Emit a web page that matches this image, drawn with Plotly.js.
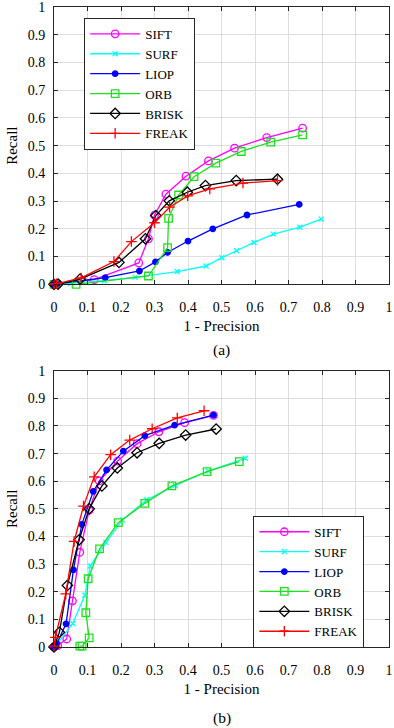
<!DOCTYPE html>
<html>
<head>
<meta charset="utf-8">
<script src="https://cdn.plot.ly/plotly-3.0.1.min.js"></script>
<style>
html,body{margin:0;padding:0;background:#fff;}
#chart{width:394px;height:728px;}
</style>
</head>
<body>
<div id="chart"></div>
<script>
// ---- Data: chart (a) ----
var names = ["SIFT", "SURF", "LIOP", "ORB", "BRISK", "FREAK"];
var tickVals = [0, 0.1, 0.2, 0.3, 0.4, 0.5, 0.6, 0.7, 0.8, 0.9, 1];
var tickText = ["0", "0.1", "0.2", "0.3", "0.4", "0.5", "0.6", "0.7", "0.8", "0.9", "1"];

var siftA_x = [0, 0.012, 0.12, 0.253, 0.282, 0.3, 0.334, 0.394, 0.461, 0.539, 0.635, 0.742];
var siftA_y = [0, 0.002, 0.017, 0.077, 0.164, 0.249, 0.325, 0.39, 0.445, 0.491, 0.529, 0.563];
var surfA_x = [0, 0.05, 0.15, 0.242, 0.368, 0.454, 0.501, 0.545, 0.597, 0.655, 0.734, 0.798];
var surfA_y = [0, 0.004, 0.013, 0.025, 0.046, 0.066, 0.096, 0.121, 0.151, 0.181, 0.206, 0.235];
var liopA_x = [0, 0.01, 0.153, 0.255, 0.303, 0.339, 0.4, 0.474, 0.576, 0.732];
var liopA_y = [0, 0.002, 0.024, 0.048, 0.081, 0.115, 0.156, 0.2, 0.25, 0.288];
var orbA_x = [0, 0.066, 0.282, 0.339, 0.342, 0.372, 0.418, 0.483, 0.559, 0.647, 0.742];
var orbA_y = [0, 0, 0.03, 0.132, 0.238, 0.322, 0.388, 0.437, 0.479, 0.513, 0.539];
var briskA_x = [0, 0.012, 0.078, 0.194, 0.273, 0.304, 0.344, 0.398, 0.452, 0.544, 0.667];
var briskA_y = [0, 0.001, 0.019, 0.079, 0.164, 0.248, 0.301, 0.332, 0.356, 0.374, 0.379];
var freakA_x = [0, 0.007, 0.081, 0.179, 0.231, 0.3, 0.345, 0.399, 0.465, 0.564, 0.667];
var freakA_y = [0, 0.002, 0.023, 0.082, 0.154, 0.222, 0.278, 0.319, 0.344, 0.365, 0.374];

// ---- Data: chart (b) ----
var siftB_x = [0, 0.011, 0.038, 0.055, 0.077, 0.105, 0.135, 0.19, 0.248, 0.313, 0.39, 0.476];
var siftB_y = [0, 0.005, 0.029, 0.167, 0.343, 0.495, 0.601, 0.673, 0.736, 0.779, 0.812, 0.838];
var surfB_x = [0, 0.006, 0.056, 0.092, 0.108, 0.155, 0.204, 0.277, 0.362, 0.46, 0.571];
var surfB_y = [0, 0.005, 0.085, 0.187, 0.293, 0.378, 0.46, 0.533, 0.585, 0.637, 0.683];
var liopB_x = [0, 0.008, 0.036, 0.058, 0.083, 0.117, 0.157, 0.207, 0.271, 0.36, 0.476];
var liopB_y = [0, 0.012, 0.084, 0.279, 0.444, 0.563, 0.641, 0.709, 0.765, 0.803, 0.839];
var orbB_x = [0.077, 0.084, 0.105, 0.095, 0.102, 0.136, 0.192, 0.271, 0.352, 0.457, 0.553];
var orbB_y = [0.003, 0.003, 0.033, 0.124, 0.247, 0.355, 0.45, 0.52, 0.583, 0.635, 0.671];
var briskB_x = [0, 0.016, 0.04, 0.075, 0.105, 0.143, 0.189, 0.248, 0.314, 0.393, 0.484];
var briskB_y = [0, 0.053, 0.223, 0.388, 0.5, 0.583, 0.648, 0.703, 0.737, 0.767, 0.789];
var freakB_x = [0, 0.004, 0.035, 0.06, 0.088, 0.12, 0.169, 0.226, 0.293, 0.368, 0.448];
var freakB_y = [0.003, 0.035, 0.192, 0.382, 0.51, 0.616, 0.696, 0.749, 0.79, 0.829, 0.855];

// ---- Styles ----
var styles = [
  {color: "#ff00ff", symbol: "circle-open", size: 7.5},
  {color: "#00ffff", symbol: "x-thin-open", size: 5},
  {color: "#0000ff", symbol: "circle", size: 5.5},
  {color: "#1ee01e", symbol: "square-open", size: 7.5},
  {color: "#000000", symbol: "diamond-open", size: 8},
  {color: "#ff0000", symbol: "cross-thin-open", size: 7.5}
];

var seriesA = [[siftA_x, siftA_y], [surfA_x, surfA_y], [liopA_x, liopA_y], [orbA_x, orbA_y], [briskA_x, briskA_y], [freakA_x, freakA_y]];
var seriesB = [[siftB_x, siftB_y], [surfB_x, surfB_y], [liopB_x, liopB_y], [orbB_x, orbB_y], [briskB_x, briskB_y], [freakB_x, freakB_y]];

function mk(s, i, xa, ya, leg) {
  var st = styles[i];
  return {
    type: "scatter", mode: "lines+markers",
    x: s[0], y: s[1], name: names[i],
    xaxis: xa, yaxis: ya, legend: leg,
    cliponaxis: false,
    line: {color: st.color, width: 1.3},
    marker: {symbol: st.symbol, size: st.size, color: st.color,
             line: {color: st.color, width: 1.3}}
  };
}

var data = [];
seriesA.forEach(function (s, i) { data.push(mk(s, i, "x", "y", "legend")); });
seriesB.forEach(function (s, i) { data.push(mk(s, i, "x2", "y2", "legend2")); });

var FONT = "Liberation Serif";

function xax(anchor) {
  return {
    anchor: anchor, domain: [0, 1], range: [0, 1], fixedrange: true,
    tickmode: "array", tickvals: tickVals, ticktext: tickText,
    ticks: "inside", ticklen: 4, tickcolor: "#262626", tickwidth: 1,
    showline: true, linecolor: "#262626", linewidth: 1, mirror: "ticks",
    showgrid: true, gridcolor: "#dedede", gridwidth: 1, zeroline: false,
    tickfont: {family: FONT, size: 14, color: "#000"},
    ticklabelstandoff: 10, ticklabeloverflow: "allow",
    title: {text: "1 - Precision", font: {family: FONT, size: 15, color: "#000"}, standoff: 6}
  };
}
function yax(anchor, dom) {
  return {
    anchor: anchor, domain: dom, range: [0, 1], fixedrange: true,
    tickmode: "array", tickvals: tickVals, ticktext: tickText,
    ticks: "inside", ticklen: 4, tickcolor: "#262626", tickwidth: 1,
    showline: true, linecolor: "#262626", linewidth: 1, mirror: "ticks",
    showgrid: true, gridcolor: "#dedede", gridwidth: 1, zeroline: false,
    tickfont: {family: FONT, size: 14, color: "#000"},
    ticklabelstandoff: 5, ticklabeloverflow: "allow",
    title: {text: "Recall", font: {family: FONT, size: 15, color: "#000"}, standoff: 6}
  };
}

var legBase = {
  bgcolor: "#ffffff", bordercolor: "#262626", borderwidth: 1,
  font: {family: FONT, size: 13, color: "#000"},
  itemwidth: 50, xanchor: "left", yanchor: "top", traceorder: "normal",
  tracegroupgap: 0
};

var layout = {
  width: 394, height: 728,
  margin: {l: 54, r: 5, t: 7, b: 81, pad: 0},
  paper_bgcolor: "#fff", plot_bgcolor: "#fff",
  font: {family: FONT, color: "#000"},
  xaxis: xax("y"),
  yaxis: yax("x", [0.5667, 1]),
  xaxis2: xax("y2"),
  yaxis2: yax("x2", [0, 0.4317]),
  legend: Object.assign({}, legBase, {x: 0.09, y: 0.983}),
  legend2: Object.assign({}, legBase, {x: 0.595, y: 0.205}),
  showlegend: true,
  annotations: [
    {text: "(a)", xref: "paper", yref: "paper", x: 0.5, y: 0.464, showarrow: false,
     xanchor: "center", yanchor: "middle", font: {family: FONT, size: 15.5, color: "#000"}},
    {text: "(b)", xref: "paper", yref: "paper", x: 0.5, y: -0.111, showarrow: false,
     xanchor: "center", yanchor: "middle", font: {family: FONT, size: 15.5, color: "#000"}}
  ]
};

Plotly.newPlot("chart", data, layout, {staticPlot: true, displayModeBar: false});
</script>
</body>
</html>
